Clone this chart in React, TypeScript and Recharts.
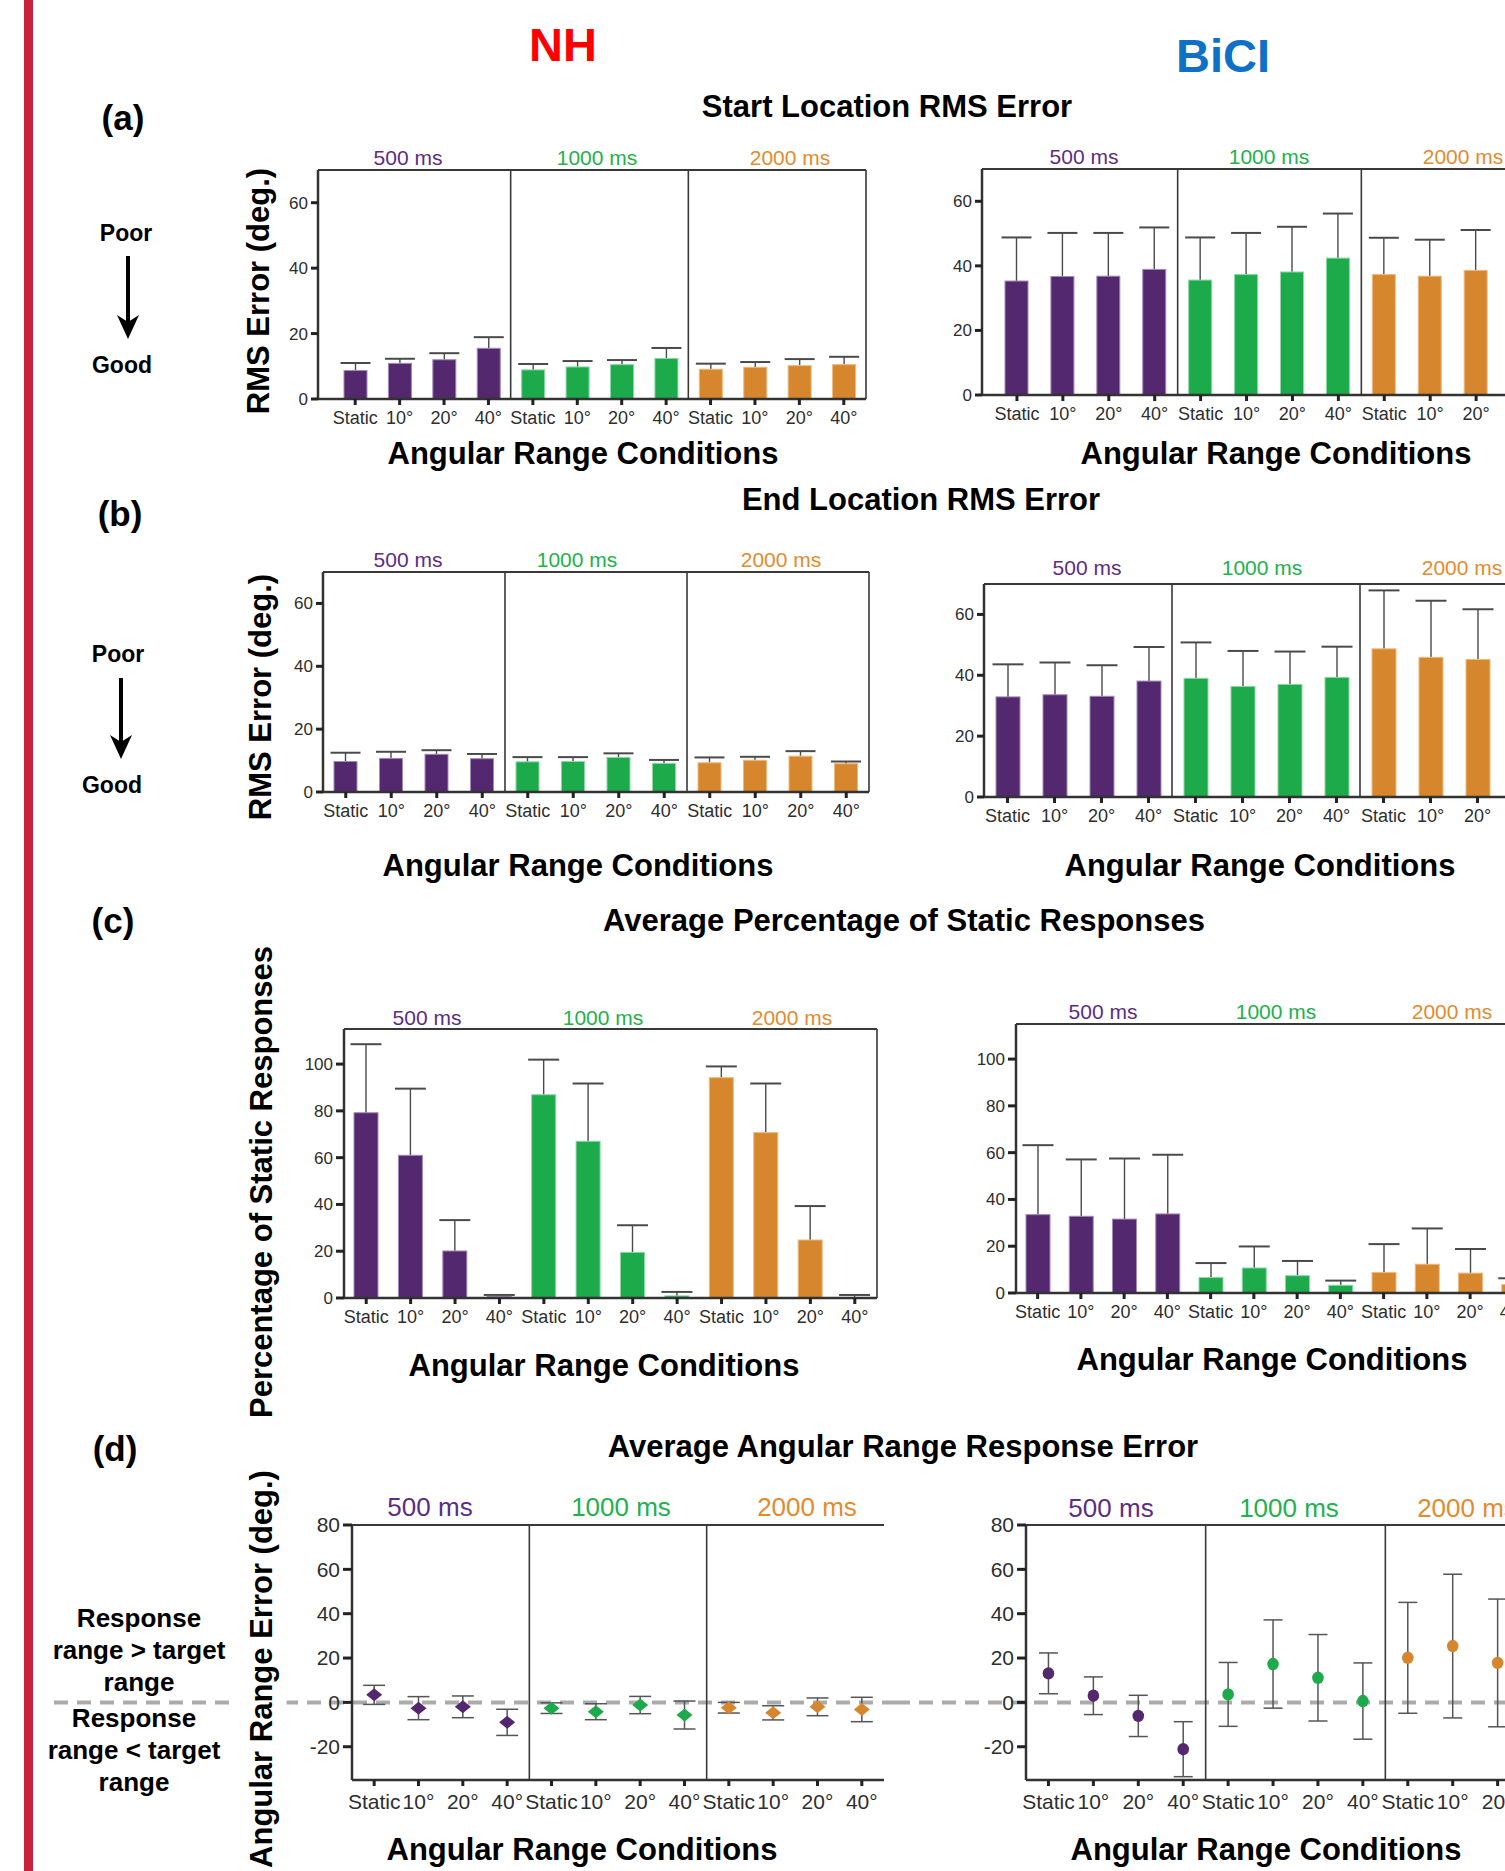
import React from 'react';
import { ComposedChart, Bar, Line, XAxis, YAxis, ReferenceLine, ErrorBar } from 'recharts';

const FONT = '"Liberation Sans", Arial, Helvetica, sans-serif';

// ---------- categories ----------
const durations = ['500 ms', '1000 ms', '2000 ms'];
const conditions = ['Static', '10°', '20°', '40°'];
const barColors = ['#54286F', '#1CAA4B', '#D6862C'];
const barEdges = ['#A08AB8', '#8AD8A4', '#EFB97E'];
const labelColors = ['#5B2D86', '#22B14C', '#E38B2E'];

// ---------- tick labels ----------
const rmsTicks = [0, 20, 40, 60];
const pctTicks = [0, 20, 40, 60, 80, 100];
const rangeTicks = [-20, 0, 20, 40, 60, 80];

// ---------- data (order: 500 ms, 1000 ms, 2000 ms × Static, 10°, 20°, 40°) ----------
// (a) Start location RMS error
const nhStartMean = [8.7, 10.9, 12.0, 15.5, 8.9, 9.8, 10.5, 12.4, 9.1, 9.7, 10.2, 10.5];
const nhStartSd = [2.3, 1.4, 2.0, 3.4, 1.8, 1.8, 1.4, 3.2, 1.7, 1.6, 2.0, 2.4];
const ciStartMean = [35.3, 36.7, 36.8, 38.9, 35.6, 37.3, 38.1, 42.4, 37.3, 36.8, 38.6, 39.0];
const ciStartSd = [13.5, 13.5, 13.4, 13.0, 13.2, 12.9, 14.0, 13.8, 11.4, 11.3, 12.5, 13.0];
// (b) End location RMS error
const nhEndMean = [9.7, 10.7, 12.0, 10.6, 9.6, 9.7, 11.0, 9.1, 9.3, 10.1, 11.4, 9.0];
const nhEndSd = [2.8, 2.1, 1.3, 1.5, 1.5, 1.4, 1.3, 1.1, 1.7, 1.1, 1.6, 0.7];
const ciEndMean = [32.9, 33.6, 33.1, 38.1, 39.0, 36.3, 37.0, 39.3, 48.7, 45.9, 45.2, 44.0];
const ciEndSd = [10.7, 10.6, 10.2, 11.2, 11.8, 11.7, 10.8, 10.1, 19.2, 18.6, 16.5, 16.0];
// (c) Percentage of static responses
const nhStaticMean = [79.2, 61.0, 20.1, 0.7, 86.9, 67.0, 19.5, 0.9, 94.2, 70.7, 24.8, 0.2];
const nhStaticSd = [29.3, 28.5, 13.2, 0.6, 15.0, 24.7, 11.6, 1.7, 4.8, 21.0, 14.5, 1.1];
const ciStaticMean = [33.5, 32.8, 31.6, 33.8, 6.6, 10.7, 7.4, 3.3, 8.8, 12.3, 8.5, 3.6];
const ciStaticSd = [29.7, 24.3, 25.9, 25.3, 6.2, 9.2, 6.3, 2.0, 12.1, 15.3, 10.3, 2.7];
// (d) Angular range response error
const nhRangeMean = [3.4, -2.6, -2.0, -9.0, -2.6, -4.2, -1.2, -5.7, -2.4, -4.7, -2.0, -3.2];
const nhRangeSd = [4.3, 5.2, 4.9, 5.9, 2.4, 3.6, 3.9, 6.3, 2.4, 3.2, 4.0, 5.5];
const ciRangeMean = [13.1, 3.0, -6.1, -21.1, 3.6, 17.3, 11.1, 0.6, 20.1, 25.4, 17.8, 15.0];
const ciRangeSd = [9.2, 8.5, 9.3, 12.4, 14.4, 19.9, 19.5, 17.2, 25.0, 32.4, 28.8, 25.0];

type Row = { key: string; label: string; group: number; mean: number; sd: number };

function buildRows(mean: number[], sd: number[]): Row[] {
  return mean.map((m, i) => {
    const g = Math.floor(i / conditions.length);
    const c = conditions[i % conditions.length];
    return { key: `${durations[g]}|${c}`, label: c, group: g, mean: m, sd: sd[i] };
  });
}

const keyOf = (g: number, c: number) => `${durations[g]}|${conditions[c]}`;

function BarWithWhisker(props: any) {
  const { x, y, width, height, payload } = props;
  if (!payload || !isFinite(y) || !isFinite(height)) return <g />;
  const perUnit = payload.mean !== 0 ? height / payload.mean : 0;
  const top = y - payload.sd * perUnit;
  const cx = x + width / 2;
  const capHalf = width / 2 + 3.5;
  return (
    <g>
      <line x1={cx} x2={cx} y1={y} y2={top} stroke="#4a4a4a" strokeWidth={1.4} />
      <line x1={cx - capHalf} x2={cx + capHalf} y1={top} y2={top} stroke="#4a4a4a" strokeWidth={2} />
      <rect x={x} y={y} width={width} height={Math.max(height, 0)} fill={barColors[payload.group]} stroke={barEdges[payload.group]} strokeWidth={1} />
    </g>
  );
}

function makeDot(marker: 'diamond' | 'circle') {
  return (props: any) => {
    const { cx, cy, payload, index } = props;
    if (cx == null || cy == null || !payload) return <g key={`n${index}`} />;
    const c = barColors[payload.group];
    if (marker === 'diamond') {
      return (
        <polygon
          key={`m${index}`}
          points={`${cx},${cy - 6.5} ${cx + 8},${cy} ${cx},${cy + 6.5} ${cx - 8},${cy}`}
          fill={c}
        />
      );
    }
    return <ellipse key={`m${index}`} cx={cx} cy={cy} rx={5.8} ry={6.2} fill={c} />;
  };
}

type Box = { x1: number; y1: number; x2: number; y2: number };
type PanelProps = {
  box: Box;
  data: Row[];
  domain: [number, number];
  yTicks: number[];
  mode: 'bar' | 'point';
  dividers: boolean;
  marker?: 'diamond' | 'circle';
  barSize?: number;
  capWidth?: number;
  tickFont: number;
  yTickFont: number;
  xTickMargin: number;
  yTickSize: number;
  svgLeft?: number;
  zeroLine?: boolean;
  xPad?: number;
};

function Panel(p: PanelProps) {
  const left = p.svgLeft ?? p.box.x1 - 70;
  const mTop = 12;
  const mRight = 12;
  const xAxisH = 50;
  const top = p.box.y1 - mTop;
  const yAxisW = p.box.x1 - left;
  const w = p.box.x2 - left + mRight;
  const h = p.box.y2 - top + xAxisH;
  const frame = '#383838';
  return (
    <div style={{ position: 'absolute', left, top, width: w, height: h }}>
      <ComposedChart width={w} height={h} data={p.data} margin={{ top: mTop, right: mRight, bottom: 0, left: 0 }}>
        <XAxis
          dataKey="key"
          type="category"
          scale="band"
          interval={0}
          height={xAxisH}
          padding={{ left: p.xPad ?? 0, right: 0 }}
          tickFormatter={(v: string) => String(v).split('|')[1]}
          tick={{ fontSize: p.tickFont, fill: '#2e2e2e', fontFamily: FONT }}
          tickSize={6}
          tickMargin={p.xTickMargin}
          axisLine={{ stroke: '#333', strokeWidth: 2.5 }}
          tickLine={{ stroke: '#222', strokeWidth: 3 }}
        />
        <YAxis
          domain={p.domain}
          ticks={p.yTicks}
          allowDataOverflow
          interval={0}
          width={yAxisW}
          tick={{ fontSize: p.yTickFont, fill: '#2e2e2e', fontFamily: FONT }}
          tickSize={p.yTickSize}
          tickMargin={3}
          axisLine={{ stroke: '#333', strokeWidth: 2.5 }}
          tickLine={{ stroke: '#222', strokeWidth: 3 }}
        />
        {p.zeroLine && (
          <ReferenceLine
            y={0}
            shape={(sp: any) => (
              <line x1={0} x2={w} y1={sp.y1} y2={sp.y2} stroke="#ABABAB" strokeWidth={4} strokeDasharray="14 9" />
            )}
          />
        )}
        {p.mode === 'bar' && (
          <Bar dataKey="mean" barSize={p.barSize} shape={BarWithWhisker} isAnimationActive={false} />
        )}
        {p.mode === 'point' && (
          <Line
            dataKey="mean"
            stroke="none"
            dot={makeDot(p.marker ?? 'circle')}
            activeDot={false}
            isAnimationActive={false}
          >
            <ErrorBar dataKey="sd" width={p.capWidth ?? 10} stroke="#555" strokeWidth={1.5} direction="y" />
          </Line>
        )}
        <ReferenceLine y={p.domain[1]} stroke={frame} strokeWidth={2} />
        <ReferenceLine x={keyOf(2, 3)} position="end" stroke={frame} strokeWidth={1.6} />
        {p.dividers && <ReferenceLine x={keyOf(1, 0)} position="start" stroke={frame} strokeWidth={1.6} />}
        {p.dividers && <ReferenceLine x={keyOf(2, 0)} position="start" stroke={frame} strokeWidth={1.6} />}
      </ComposedChart>
    </div>
  );
}

function T(props: {
  x: number;
  y: number;
  size: number;
  color?: string;
  bold?: boolean;
  rotate?: boolean;
  bg?: string;
  pad?: string;
  children: React.ReactNode;
}) {
  return (
    <div
      style={{
        position: 'absolute',
        left: props.x,
        top: props.y,
        transform: `translate(-50%, -50%)${props.rotate ? ' rotate(-90deg)' : ''}`,
        fontSize: props.size,
        fontWeight: props.bold === false ? 400 : 700,
        color: props.color ?? '#000',
        whiteSpace: 'nowrap',
        lineHeight: 1,
        fontFamily: FONT,
        background: props.bg,
        padding: props.pad,
      }}
    >
      {props.children}
    </div>
  );
}

function Arrow({ x, y1, y2 }: { x: number; y1: number; y2: number }) {
  const hh = y2 - y1;
  return (
    <svg style={{ position: 'absolute', left: x - 14, top: y1, overflow: 'visible' }} width={28} height={hh}>
      <line x1={14} x2={14} y1={0} y2={hh - 16} stroke="#000" strokeWidth={4} />
      <polygon points={`14,${hh} 3,${hh - 24} 14,${hh - 17} 25,${hh - 24}`} fill="#000" />
    </svg>
  );
}

function DurLabels({ xs, y, size }: { xs: number[]; y: number; size: number }) {
  return (
    <>
      {durations.map((d, i) => (
        <T key={d} x={xs[i]} y={y} size={size} bold={false} color={labelColors[i]}>
          {d}
        </T>
      ))}
    </>
  );
}

function ResponseText({ x, y, text }: { x: number; y: number; text: string[] }) {
  return (
    <div
      style={{
        position: 'absolute',
        left: x,
        top: y,
        transform: 'translateX(-50%)',
        fontSize: 26,
        fontWeight: 700,
        lineHeight: '32px',
        textAlign: 'center',
        whiteSpace: 'nowrap',
        fontFamily: FONT,
      }}
    >
      {text.map((t) => (
        <div key={t}>{t}</div>
      ))}
    </div>
  );
}

export default function App() {
  const aNH = buildRows(nhStartMean, nhStartSd);
  const aCI = buildRows(ciStartMean, ciStartSd);
  const bNH = buildRows(nhEndMean, nhEndSd);
  const bCI = buildRows(ciEndMean, ciEndSd);
  const cNH = buildRows(nhStaticMean, nhStaticSd);
  const cCI = buildRows(ciStaticMean, ciStaticSd);
  const dNH = buildRows(nhRangeMean, nhRangeSd);
  const dCI = buildRows(ciRangeMean, ciRangeSd);

  const small = { tickFont: 18, yTickFont: 17, xTickMargin: 6, yTickSize: 7 };
  const big = { tickFont: 21, yTickFont: 21, xTickMargin: 8, yTickSize: 9 };

  return (
    <div
      style={{
        position: 'fixed',
        left: 0,
        top: 0,
        width: 1505,
        height: 1871,
        overflow: 'hidden',
        background: '#fff',
        fontFamily: FONT,
      }}
    >
      <div style={{ position: 'absolute', left: 24, top: 0, width: 9, height: 1871, background: '#C8203E' }} />

      <T x={563} y={44} size={47} color="#FF0000">NH</T>
      <T x={1223} y={55} size={47} color="#0F70C8">BiCI</T>

      {/* (a) */}
      <T x={123} y={117} size={35}>(a)</T>
      <T x={887} y={106} size={31}>Start Location RMS Error</T>
      <T x={126} y={233} size={23}>Poor</T>
      <Arrow x={128} y1={256} y2={339} />
      <T x={122} y={365} size={23}>Good</T>
      <T x={258} y={291} size={31} rotate>RMS Error (deg.)</T>
      <Panel box={{ x1: 318, y1: 170, x2: 866, y2: 399 }} xPad={15} data={aNH} domain={[0, 70]} yTicks={rmsTicks} mode="bar" dividers barSize={23} {...small} />
      <Panel box={{ x1: 982, y1: 169, x2: 1545, y2: 395 }} xPad={12} data={aCI} domain={[0, 70]} yTicks={rmsTicks} mode="bar" dividers barSize={23} {...small} />
      <DurLabels xs={[408, 597, 790]} y={157} size={21} />
      <DurLabels xs={[1084, 1269, 1463]} y={156} size={21} />
      <T x={583} y={453} size={31}>Angular Range Conditions</T>
      <T x={1276} y={453} size={31}>Angular Range Conditions</T>

      {/* (b) */}
      <T x={120} y={513} size={35}>(b)</T>
      <T x={921} y={499} size={31}>End Location RMS Error</T>
      <T x={118} y={654} size={23}>Poor</T>
      <Arrow x={121} y1={678} y2={759} />
      <T x={112} y={785} size={23}>Good</T>
      <T x={260} y={697} size={31} rotate>RMS Error (deg.)</T>
      <Panel box={{ x1: 323, y1: 572, x2: 869, y2: 792 }} data={bNH} domain={[0, 70]} yTicks={rmsTicks} mode="bar" dividers barSize={23} {...small} />
      <Panel box={{ x1: 984, y1: 584, x2: 1548, y2: 797 }} data={bCI} domain={[0, 70]} yTicks={rmsTicks} mode="bar" dividers barSize={24} {...small} />
      <DurLabels xs={[408, 577, 781]} y={559} size={21} />
      <DurLabels xs={[1087, 1262, 1462]} y={567} size={21} />
      <T x={578} y={865} size={31}>Angular Range Conditions</T>
      <T x={1260} y={865} size={31}>Angular Range Conditions</T>

      {/* (c) */}
      <T x={113} y={920} size={35}>(c)</T>
      <T x={904} y={920} size={31}>Average Percentage of Static Responses</T>
      <T x={261} y={1182} size={31} rotate>Percentage of Static Responses</T>
      <Panel box={{ x1: 344, y1: 1029, x2: 877, y2: 1298 }} data={cNH} domain={[0, 115]} yTicks={pctTicks} mode="bar" dividers={false} barSize={24} {...small} yTickSize={8} />
      <Panel box={{ x1: 1016, y1: 1024, x2: 1535, y2: 1293 }} data={cCI} domain={[0, 115]} yTicks={pctTicks} mode="bar" dividers={false} barSize={24} {...small} yTickSize={8} />
      <DurLabels xs={[427, 603, 792]} y={1017} size={21} />
      <DurLabels xs={[1103, 1276, 1452]} y={1011} size={21} />
      <T x={604} y={1365} size={31}>Angular Range Conditions</T>
      <T x={1272} y={1359} size={31}>Angular Range Conditions</T>

      {/* (d) */}
      <T x={115} y={1448} size={35}>(d)</T>
      <T x={903} y={1446} size={31}>Average Angular Range Response Error</T>
      <Panel box={{ x1: 352, y1: 1525, x2: 884, y2: 1780 }} svgLeft={54} data={dNH} domain={[-35, 80]} yTicks={rangeTicks} mode="point" marker="diamond" capWidth={11} dividers zeroLine {...big} />
      <Panel box={{ x1: 1026, y1: 1525, x2: 1565, y2: 1780 }} svgLeft={896} data={dCI} domain={[-35, 80]} yTicks={rangeTicks} mode="point" marker="circle" capWidth={9.5} dividers zeroLine {...big} />
      <DurLabels xs={[430, 621, 807]} y={1507} size={26} />
      <DurLabels xs={[1111, 1289, 1467]} y={1508} size={26} />
      <T x={261} y={1669} size={31} rotate bg="#fff" pad="10px 0">Angular Range Error (deg.)</T>
      <ResponseText x={139} y={1602} text={['Response', 'range > target', 'range']} />
      <ResponseText x={134} y={1702} text={['Response', 'range < target', 'range']} />
      <T x={582} y={1849} size={31}>Angular Range Conditions</T>
      <T x={1266} y={1849} size={31}>Angular Range Conditions</T>
    </div>
  );
}
